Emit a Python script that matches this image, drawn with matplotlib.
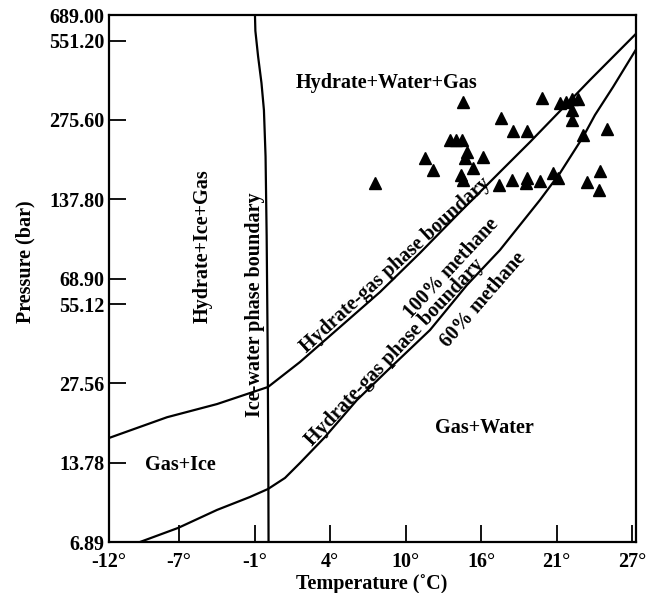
import matplotlib.pyplot as plt
from matplotlib.ticker import NullLocator

plt.rcParams['font.family'] = 'Liberation Serif'
plt.rcParams['font.weight'] = 'bold'

# ice-water phase boundary (temperature C, pressure bar)
ice_t = [-1.08, -1.05, -0.85, -0.6, -0.42, -0.3, -0.22, -0.15, -0.1, -0.08]
ice_p = [689, 600, 480, 380, 300, 200, 100, 40, 15, 6.89]

# hydrate-gas boundary, 100% methane
gas100_t = [-11.82, -7.55, -3.87, -0.12, 2.23, 5.18, 8.12, 11.06, 14.01,
            16.95, 19.16, 21.37, 23.57, 26.96]
gas100_p = [17.1, 20.5, 23.0, 26.7, 33.2, 45.1, 61.2, 86.1, 123.2,
            174.8, 227.1, 297.8, 390.4, 585.0]

# hydrate-gas boundary, 60% methane
gas60_t = [-9.54, -6.74, -3.87, -1.45, -0.12, 1.13, 2.23, 4.07, 6.43, 8.86,
           11.80, 14.52, 16.95, 19.89, 21.37, 23.06, 23.94, 25.27, 26.96]
gas60_p = [6.89, 7.79, 9.12, 10.21, 10.95, 12.06, 13.74, 17.24, 23.84, 31.52,
           43.92, 65.1, 88.4, 136.8, 173.2, 237.3, 287.6, 367.4, 510.0]

# samples
sample_t = [7.75, 11.43, 12.02, 13.27, 13.71, 14.15, 14.23, 14.52, 14.38, 15.70,
            14.96, 14.08, 14.23, 16.88, 17.02, 17.91, 18.94, 17.83, 18.94, 18.86,
            19.89, 20.04, 20.85, 21.22, 21.37, 21.81, 22.25, 22.69, 22.25, 22.25,
            23.06, 24.82, 23.35, 24.31, 24.24]
sample_p = [158.7, 197.4, 177.8, 231.2, 231.2, 231.2, 322.2, 208.1, 197.4, 199.2,
            180.9, 170.3, 162.9, 156.0, 280.0, 250.2, 250.2, 162.9, 165.8, 158.1,
            161.6, 333.6, 173.1, 165.8, 319.3, 322.2, 330.7, 330.7, 300.3, 274.2,
            241.6, 254.3, 160.1, 176.2, 149.3]

x_ticks = [-11.82, -6.67, -1.11, 4.44, 10.0, 15.56, 21.11, 26.67]
x_labels = ['-12°', '-7°', '-1°', '4°', '10°', '16°', '21°', '27°']
y_ticks = [6.89, 13.78, 27.56, 55.12, 68.90, 137.80, 275.60, 551.20, 689.00]
y_labels = ['6.89', '13.78', '27.56', '55.12', '68.90', '137.80', '275.60',
            '551.20', '689.00']

fig = plt.figure(figsize=(6.5, 5.93), dpi=100)
ax = fig.add_axes([0.1677, 0.086, 0.8108, 0.8887])

lw = 1.6
ax.plot(ice_t, ice_p, color='black', lw=lw)
ax.plot(gas100_t, gas100_p, color='black', lw=lw)
ax.plot(gas60_t, gas60_p, color='black', lw=lw)
ax.plot(sample_t, sample_p, '^', color='black', markersize=9, ls='none')

ax.set_yscale('log')
ax.set_xlim(-11.82, 26.96)
ax.set_ylim(6.89, 689)
ax.yaxis.set_minor_locator(NullLocator())
ax.set_xticks(x_ticks)
ax.set_xticklabels(x_labels)
ax.set_yticks(y_ticks)
ax.set_yticklabels(y_labels)
ax.tick_params(axis='x', direction='in', length=12, width=1.3, pad=7, labelsize=14.5)
ax.tick_params(axis='y', direction='in', length=12, width=1.3, pad=3, labelsize=14.5)
for s in ax.spines.values():
    s.set_linewidth(1.6)

fs = 14.5
ax.text(8.64, 380, 'Hydrate+Water+Gas', ha='center', va='center', fontsize=fs)
ax.text(-4.90, 91.5, 'Hydrate+Ice+Gas', ha='center', va='center', rotation=90, fontsize=fs)
ax.text(-1.08, 54.7, 'Ice-water phase boundary', ha='center', va='center', rotation=90, fontsize=fs)
ax.text(9.22, 77.5, 'Hydrate-gas phase boundary', ha='center', va='center',
        rotation=42.5, rotation_mode='anchor', fontsize=fs)
ax.text(13.34, 75.5, '100% methane', ha='center', va='center',
        rotation=47, rotation_mode='anchor', fontsize=fs)
ax.text(9.22, 36.25, 'Hydrate-gas phase boundary', ha='center', va='center',
        rotation=46.5, rotation_mode='anchor', fontsize=fs)
ax.text(15.70, 57.1, '60% methane', ha='center', va='center',
        rotation=49, rotation_mode='anchor', fontsize=fs)
ax.text(-6.60, 13.5, 'Gas+Ice', ha='center', va='center', fontsize=fs)
ax.text(15.77, 18.65, 'Gas+Water', ha='center', va='center', fontsize=fs)

fig.text(0.0385, 0.558, 'Pressure (bar)', rotation=90, ha='center', va='center', fontsize=fs)
fig.text(0.572, 0.016, 'Temperature (˚C)', ha='center', va='center', fontsize=fs)

fig.savefig('out.png', dpi=100)
